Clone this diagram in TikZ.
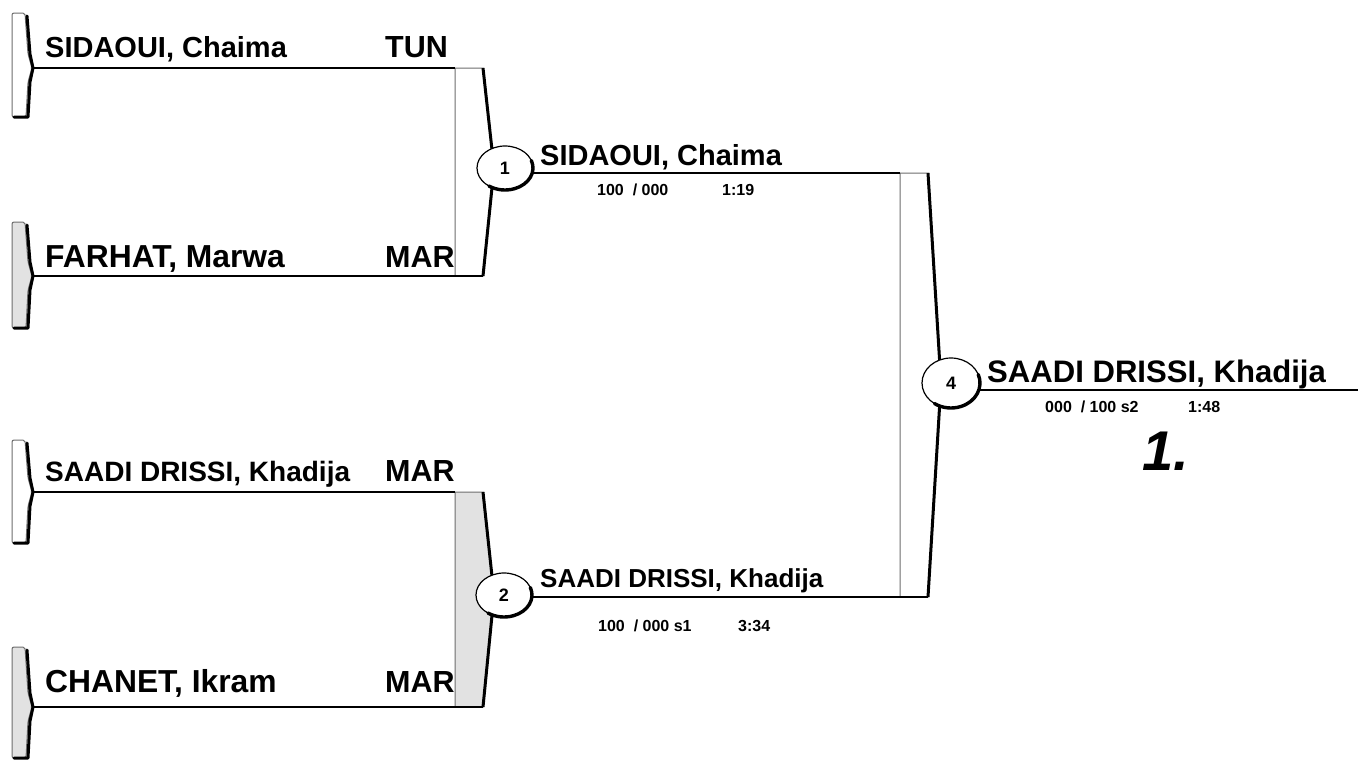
\documentclass[tikz,border=0pt]{standalone}
\usepackage{fontspec}
\setmainfont{Liberation Sans}
\usetikzlibrary{shapes.geometric}
\definecolor{tabgray}{HTML}{E2E2E2}
\definecolor{edgegray}{HTML}{6E6E6E}

% tab: top y, line y, bottom y, fill
\newcommand\judotab[4]{%
  \filldraw[fill=#4, draw=edgegray, line width=1, rounded corners=2]
    (12,#1) -- (25,#1) -- (28,#2-14) -- (32,#2) -- (28,#2+14) -- (26,#3) -- (12,#3) -- cycle;
  \draw[line width=3, line join=round, line cap=round]
    (27,#1+3) -- (30,#2-14) -- (33,#2) -- (30,#2+14) -- (28,#3) -- (14,#3);
}
% bracket: x left, x right, y top, y bottom, x bulge, y mid, fill
\newcommand\judobracket[7]{%
  \filldraw[fill=#7, draw=edgegray, line width=1]
    (#1,#3) -- (#2,#3) -- (#5,#6) -- (#2,#4) -- (#1,#4) -- cycle;
  \draw[line width=3, line join=round] (#2,#3) -- (#5,#6) -- (#2,#4);
}

\tikzset{
  pline/.style={line width=2.8},
  match/.style={ellipse, draw, line width=1.2, fill=white, minimum width=56,
    minimum height=44, inner sep=0, font=\fontsize{18}{18}\selectfont\bfseries},
  shadowarc/.style={line width=3.4, line cap=round},
  txt/.style={anchor=base west, inner sep=0},
}

\begin{document}
\begin{tikzpicture}[x=1pt, y=-1pt]
\useasboundingbox[fill=white] (0,0) rectangle (1358,761);

% tabs
\judotab{13}{68}{117}{white}
\judotab{222}{276}{328}{tabgray}
\judotab{440}{492}{543}{white}
\judotab{647}{707}{758}{tabgray}

% brackets
\judobracket{455}{483}{68}{276}{494}{168}{white}
\judobracket{455}{483}{492}{707}{494}{595}{tabgray}
\judobracket{900}{928}{173}{597}{941}{383}{white}

% coordinates
\coordinate (p1) at (33,68);   \coordinate (b1t) at (455,68);
\coordinate (p2) at (33,276);  \coordinate (b1b) at (483,276);
\coordinate (p3) at (33,492);  \coordinate (b2t) at (455,492);
\coordinate (p4) at (33,707);  \coordinate (b2b) at (483,707);
\coordinate (c1) at (505,168);
\coordinate (c2) at (504,595);
\coordinate (c4) at (951,383);
\coordinate (b4t) at (900,173);
\coordinate (b4b) at (928,597);
\coordinate (fin) at (1358,390);

% player lines
\draw[pline] (p1) -- (b1t);
\draw[pline] (p2) -- (b1b);
\draw[pline] (p3) -- (b2t);
\draw[pline] (p4) -- (b2b);
\draw[pline] (c1 |- b4t) -- (b4t);
\draw[pline] (c2 |- b4b) -- (b4b);
\draw[pline] (c4 |- fin) -- (fin);

% match circles
\node[match] (m1) at (c1) {1};
\node[match] (m2) at (c2) {2};
\node[match, minimum width=58, minimum height=50] (m4) at (c4) {4};
\draw[shadowarc] (m1.center) ++(20:28pt and 22pt) arc[start angle=20, end angle=-125, x radius=28pt, y radius=22pt];
\draw[shadowarc] (m2.center) ++(20:28pt and 22pt) arc[start angle=20, end angle=-125, x radius=28pt, y radius=22pt];
\draw[shadowarc] (m4.center) ++(20:29pt and 25pt) arc[start angle=20, end angle=-125, x radius=29pt, y radius=25pt];

% names, first round
\node[txt, font=\fontsize{29}{29}\selectfont\bfseries] (n1) at (45,57) {SIDAOUI, Chaima};
\node[txt, font=\fontsize{30.5}{30}\selectfont\bfseries] (k1) at (385,57) {TUN};
\node[txt, font=\fontsize{31.8}{32}\selectfont\bfseries] (n2) at (45,267) {FARHAT, Marwa};
\node[txt, font=\fontsize{30.5}{30}\selectfont\bfseries] (k2) at (385,267) {MAR};
\node[txt, font=\fontsize{28}{28}\selectfont\bfseries] (n3) at (45,481) {SAADI DRISSI, Khadija};
\node[txt, font=\fontsize{30.5}{30}\selectfont\bfseries] (k3) at (385,481) {MAR};
\node[txt, font=\fontsize{31.8}{32}\selectfont\bfseries] (n4) at (45,692) {CHANET, Ikram};
\node[txt, font=\fontsize{30.5}{30}\selectfont\bfseries] (k4) at (385,692) {MAR};

% winners
\node[txt, font=\fontsize{29}{29}\selectfont\bfseries] (w1) at (540,165) {SIDAOUI, Chaima};
\node[txt, font=\fontsize{16}{16}\selectfont\bfseries] (s1) at (597,195) {100\ \ / 000};
\node[txt, font=\fontsize{16}{16}\selectfont\bfseries] (t1) at (722,195) {1:19};

\node[txt, font=\fontsize{26}{26}\selectfont\bfseries] (w2) at (540,587) {SAADI DRISSI, Khadija};
\node[txt, font=\fontsize{16}{16}\selectfont\bfseries] (s2) at (598,631) {100\ \ / 000 s1};
\node[txt, font=\fontsize{16}{16}\selectfont\bfseries] (t2) at (738,631) {3:34};

\node[txt, font=\fontsize{31.1}{31}\selectfont\bfseries] (w4) at (987,382) {SAADI DRISSI, Khadija};
\node[txt, font=\fontsize{16}{16}\selectfont\bfseries] (s4) at (1045,412) {000\ \ / 100 s2};
\node[txt, font=\fontsize{16}{16}\selectfont\bfseries] (t4) at (1188,412) {1:48};

\node[txt, font=\fontsize{56}{56}\selectfont\bfseries\itshape] (place) at (1142,470) {1.};
\end{tikzpicture}
\end{document}
